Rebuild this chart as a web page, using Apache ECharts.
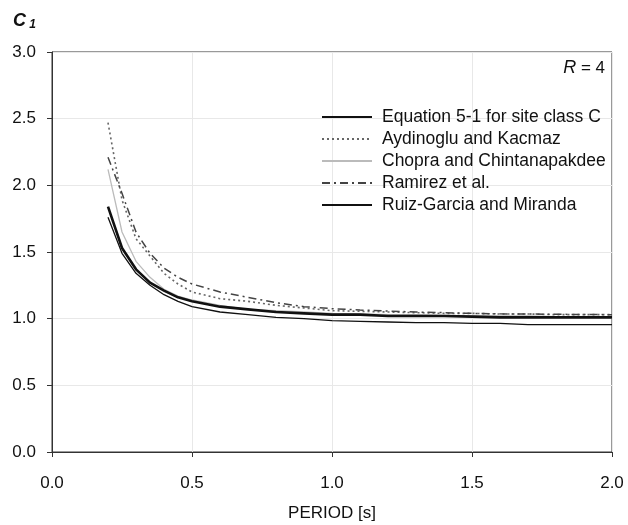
<!DOCTYPE html>
<html>
<head>
<meta charset="utf-8">
<script src="https://cdn.jsdelivr.net/npm/echarts@6/dist/echarts.min.js"></script>
<style>
  html, body { margin: 0; padding: 0; background: #fff; }
  #main { width: 628px; height: 525px; }
</style>
</head>
<body>
<div id="main"></div>
<script>
var periods = [0.2, 0.25, 0.3, 0.35, 0.4, 0.45, 0.5, 0.6, 0.7, 0.8, 0.9, 1.0, 1.1, 1.2, 1.3, 1.4, 1.5, 1.6, 1.7, 1.8, 1.9, 2.0];
var equation51 = [1.84, 1.53, 1.37, 1.27, 1.21, 1.16, 1.13, 1.09, 1.07, 1.05, 1.04, 1.03, 1.03, 1.02, 1.02, 1.02, 1.015, 1.01, 1.01, 1.01, 1.01, 1.01];
var aydinoglu = [2.47, 1.89, 1.60, 1.47, 1.34, 1.26, 1.20, 1.15, 1.13, 1.10, 1.08, 1.06, 1.055, 1.05, 1.045, 1.04, 1.04, 1.035, 1.035, 1.03, 1.03, 1.03];
var chopra = [2.12, 1.65, 1.43, 1.31, 1.22, 1.17, 1.14, 1.10, 1.07, 1.06, 1.05, 1.04, 1.035, 1.03, 1.03, 1.025, 1.02, 1.02, 1.02, 1.015, 1.015, 1.015];
var ramirez = [2.21, 1.94, 1.65, 1.49, 1.38, 1.31, 1.26, 1.20, 1.16, 1.12, 1.09, 1.075, 1.065, 1.057, 1.05, 1.045, 1.04, 1.036, 1.035, 1.033, 1.031, 1.03];
var ruizGarcia = [1.76, 1.49, 1.34, 1.25, 1.18, 1.13, 1.09, 1.05, 1.03, 1.01, 1.0, 0.985, 0.98, 0.975, 0.97, 0.97, 0.965, 0.965, 0.955, 0.955, 0.955, 0.955];
var seriesNames = ['Equation 5-1 for site class C', 'Aydinoglu and Kacmaz', 'Chopra and Chintanapakdee', 'Ramirez et al.', 'Ruiz-Garcia and Miranda'];

function pairs(vals) {
  return periods.map(function (t, i) { return [t, vals[i]]; });
}
var FONT = 'Liberation Sans';

var myChart = echarts.init(document.getElementById('main'));
myChart.setOption({
  animation: false,
  textStyle: { fontFamily: FONT },
  grid: {
    left: 52, right: 16, top: 52, bottom: 73,
    outerBoundsMode: 'none',
    show: true, borderColor: '#333', borderWidth: 1
  },
  legend: {
    orient: 'vertical',
    left: 321, top: 108, padding: 0,
    itemWidth: 50, itemHeight: 14, itemGap: 4,
    itemStyle: { opacity: 0 },
    textStyle: { fontFamily: FONT, fontSize: 17.5, lineHeight: 17, color: '#111', padding: [0, 0, 0, 5] },
    data: seriesNames
  },
  xAxis: {
    type: 'value', min: 0, max: 2, interval: 0.5,
    name: 'PERIOD [s]', nameLocation: 'middle', nameGap: 53, nameMoveOverlap: false,
    nameTextStyle: { fontFamily: FONT, fontSize: 17, color: '#111' },
    axisLine: { lineStyle: { color: '#333' } },
    axisTick: { inside: false, length: 5, lineStyle: { color: '#333' } },
    axisLabel: { fontFamily: FONT, fontSize: 17, color: '#111', margin: 23,
      formatter: function (v) { return v.toFixed(1); } },
    splitLine: { lineStyle: { color: '#e8e8e8' } }
  },
  yAxis: {
    type: 'value', min: 0, max: 3, interval: 0.5,
    axisLine: { show: true, lineStyle: { color: '#333' } },
    axisTick: { show: true, inside: false, length: 5, lineStyle: { color: '#333' } },
    axisLabel: { fontFamily: FONT, fontSize: 17, color: '#111', margin: 16,
      formatter: function (v) { return v.toFixed(1); } },
    splitLine: { lineStyle: { color: '#e8e8e8' } }
  },
  graphic: [
    { type: 'text', left: 13, top: 12,
      style: { text: '{c|C}{s| 1}', rich: {
        c: { fontFamily: FONT, fontSize: 18, fontWeight: 'bold', fontStyle: 'italic', fill: '#111' },
        s: { fontFamily: FONT, fontSize: 12, fontWeight: 'bold', fontStyle: 'italic', fill: '#111', padding: [8, 0, 0, 0] }
      } } },
    { type: 'text', right: 23, top: 59,
      style: { text: '{r|R}{t| = 4}', rich: {
        r: { fontFamily: FONT, fontSize: 18, fontStyle: 'italic', fill: '#111' },
        t: { fontFamily: FONT, fontSize: 17, fill: '#111' }
      } } }
  ],
  series: [
    { name: seriesNames[0], type: 'line', data: pairs(equation51), symbol: 'none', z: 5,
      lineStyle: { color: '#111', width: 2.6 }, itemStyle: { color: '#111' } },
    { name: seriesNames[1], type: 'line', data: pairs(aydinoglu), symbol: 'none',
      lineStyle: { color: '#666', width: 1.6, type: [2, 3] }, itemStyle: { color: '#666' } },
    { name: seriesNames[2], type: 'line', data: pairs(chopra), symbol: 'none',
      lineStyle: { color: '#bbb', width: 1.3 }, itemStyle: { color: '#bbb' } },
    { name: seriesNames[3], type: 'line', data: pairs(ramirez), symbol: 'none',
      lineStyle: { color: '#444', width: 1.5, type: [8, 4, 2, 4] }, itemStyle: { color: '#444' } },
    { name: seriesNames[4], type: 'line', data: pairs(ruizGarcia), symbol: 'none', z: 4,
      lineStyle: { color: '#111', width: 1.3 }, itemStyle: { color: '#111' } }
  ]
});
</script>
</body>
</html>
